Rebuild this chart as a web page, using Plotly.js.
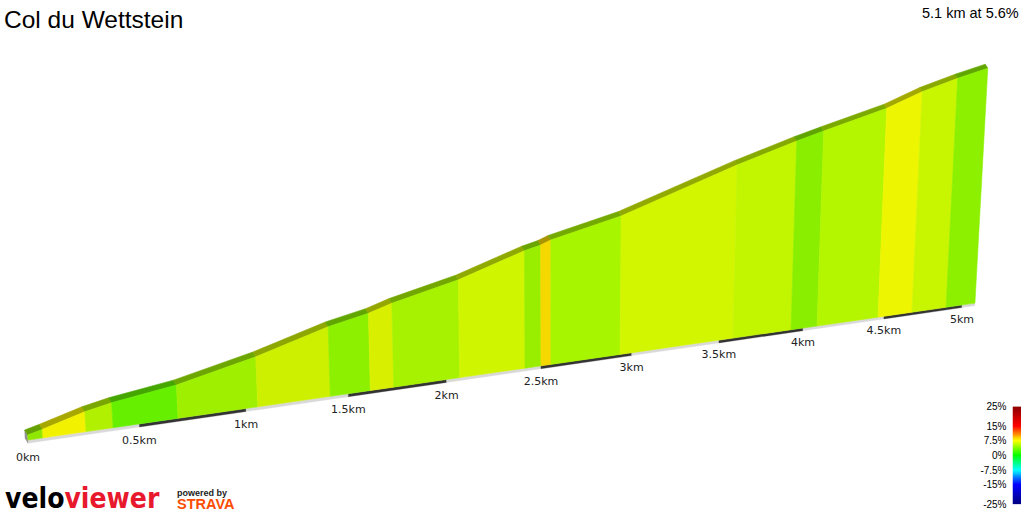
<!DOCTYPE html>
<html><head><meta charset="utf-8">
<script src="https://cdn.plot.ly/plotly-3.0.1.min.js"></script>
<style>html,body{margin:0;padding:0;background:#fff}#chart{width:1024px;height:512px}</style>
</head><body><div id="chart"></div>
<script>
// ---- data ----
const titleText = 'Col du Wettstein';
const summaryText = '5.1 km at 5.6%';
const distKm = [0, 0.066, 0.258, 0.380, 0.679, 1.056, 1.410, 1.610, 1.728, 2.068, 2.414, 2.500, 2.554, 2.935, 3.583, 3.928, 4.086, 4.463, 4.678, 4.897, 5.085];
const elevM  = [597, 600.5, 612.1, 617.4, 626.3, 644.3, 665.9, 674.6, 682.2, 698.6, 721.8, 726.0, 730.3, 748.2, 792.2, 813.1, 821.7, 841.5, 857.6, 870.0, 879.0];
const segColors = ['#90e800','#f2f200','#b0f000','#66f000','#9ef000','#ccf000','#8cf000','#d8f000','#a6f200','#d0f500',
                   '#99ee00','#f5d800','#a8f500','#d2f500','#c2f500','#8aee00','#b4f500','#eef500','#c8f500','#8cf000'];
const kmTicks  = [0, 0.5, 1, 1.5, 2, 2.5, 3, 3.5, 4, 4.5, 5];
const kmLabels = ['0km','0.5km','1km','1.5km','2km','2.5km','3km','3.5km','4km','4.5km','5km'];
const legendVals   = [25, 15, 7.5, 0, -7.5, -15, -25];
const legendLabels = ['25%','15%','7.5%','0%','-7.5%','-15%','-25%'];
const legendStops  = [[-25,'#000080'],[-15,'#0000ff'],[-7.5,'#00ffff'],[0,'#00ff00'],[7.5,'#ffff00'],[15,'#ff0000'],[25,'#8b0000']];

// ---- pseudo-3D projection (distance, elevation) -> plot units (1 unit = 1px) ----
const V = {x0:28, y0:440, A:227.6, B:32.9, k:0.0437, h0:5, c:1, vx:560, vd:7600, bx:-3, by:-5, slab:3.2, lab:18};
const eMin = Math.min(...elevM);
function proj(d, e, depth, drop) {
  const s = 1/(1+V.k*d);
  const xb = V.x0 + V.A*d*s, yb = V.y0 - V.B*d*s;
  const h = (e===null) ? 0 : s*(V.h0 + V.c*(e-eMin));
  const x = xb + (xb - V.vx)*h/V.vd + depth*V.bx*s;
  const y = yb - h + depth*V.by*s + (drop||0)*s;
  return [x, y];
}
function darken(hex, f) {
  const n = parseInt(hex.slice(1),16);
  const r = Math.round(((n>>16)&255)*f), g = Math.round(((n>>8)&255)*f), b = Math.round((n&255)*f);
  return 'rgb('+r+','+g+','+b+')';
}
function poly(pts, color, lw) {
  return {type:'scatter', mode:'lines', x:pts.map(p=>p[0]).concat([pts[0][0]]), y:pts.map(p=>p[1]).concat([pts[0][1]]),
          fill:'toself', fillcolor:color, line:{color:color, width:lw===undefined?0.6:lw}, hoverinfo:'skip', showlegend:false};
}

const traces = [];
// ground slab
const dEnd = distKm[distKm.length-1];
const gStops = kmTicks.filter(t=>t<dEnd).concat([dEnd]);
for (let i=0;i<gStops.length-1;i++) {
  const a=gStops[i], b=gStops[i+1];
  const col = (i%2===1) ? '#333333' : '#d9d9d9';
  traces.push(poly([proj(a,null,0,0), proj(b,null,0,0), proj(b,null,0,V.slab), proj(a,null,0,V.slab)], col, 0.3));
}
// start side face
traces.push(poly([proj(0,elevM[0],0), proj(0,elevM[0],1), proj(0,null,1,V.slab), proj(0,null,0,V.slab)], '#929292', 0.3));
// top strips
for (let i=0;i<segColors.length;i++) {
  const d0=distKm[i], d1=distKm[i+1], e0=elevM[i], e1=elevM[i+1];
  traces.push(poly([proj(d0,e0,0), proj(d1,e1,0), proj(d1,e1,1), proj(d0,e0,1)], darken(segColors[i],0.69)));
}
// front faces
for (let i=0;i<segColors.length;i++) {
  const d0=distKm[i], d1=distKm[i+1], e0=elevM[i], e1=elevM[i+1];
  traces.push(poly([proj(d0,null,0), proj(d1,null,0), proj(d1,e1,0), proj(d0,e0,0)], segColors[i]));
}
// km labels
const lp = kmTicks.map(t=>proj(t,null,0,V.lab));
traces.push({type:'scatter', mode:'text', x:lp.map(p=>p[0]), y:lp.map(p=>p[1]), text:kmLabels,
  textposition:'middle center', textfont:{family:'DejaVu Sans', size:11, color:'#222'}, hoverinfo:'skip', showlegend:false, cliponaxis:false});

// gradient legend bar
const lgY = []; for (let v=-25; v<=25.001; v+=0.25) lgY.push(v);
traces.push({type:'heatmap', x:[0], y:lgY, z:lgY.map(v=>[v]), xaxis:'x2', yaxis:'y2', showscale:false, hoverinfo:'skip',
  zmin:-25, zmax:25, colorscale:legendStops.map(s=>[(s[0]+25)/50, s[1]])});

const layout = {
  width:1024, height:512, margin:{l:0,r:0,t:0,b:0}, paper_bgcolor:'#fff', plot_bgcolor:'rgba(0,0,0,0)', showlegend:false,
  xaxis:{range:[0,1024], visible:false, fixedrange:true, domain:[0,1]},
  yaxis:{range:[512,0], visible:false, fixedrange:true, domain:[0,1]},
  xaxis2:{domain:[1012.5/1024, 1021/1024], anchor:'y2', visible:false, fixedrange:true},
  yaxis2:{domain:[(512-504.5)/512, (512-406.5)/512], anchor:'x2', range:[-25,25], tickvals:legendVals, ticktext:legendLabels,
          ticks:'', showgrid:false, zeroline:false, showline:false, ticklabelstandoff:5, fixedrange:true,
          tickfont:{family:'Liberation Sans, Arial', size:10, color:'#000'}},
  annotations:[
    {text:titleText, x:2, y:19, xref:'x', yref:'y', xanchor:'left', yanchor:'middle', showarrow:false,
     font:{family:'Liberation Sans, Arial', size:24.5, color:'#000'}},
    {text:summaryText, x:1021, y:13, xref:'x', yref:'y', xanchor:'right', yanchor:'middle', showarrow:false,
     font:{family:'Liberation Sans, Arial', size:14.5, color:'#000'}},
    {text:'velo<span style="color:#e8192c">viewer</span>', x:4, y:498, xref:'x', yref:'y', xanchor:'left', yanchor:'middle', showarrow:false,
     borderpad:0, font:{family:'DejaVu Sans Condensed, Liberation Sans Narrow, DejaVu Sans', size:28, weight:'bold', color:'#000'}},
    {text:'powered by', x:175, y:492.5, xref:'x', yref:'y', xanchor:'left', yanchor:'middle', showarrow:false,
     font:{family:'Liberation Sans, Arial', size:9, weight:'bold', color:'#222'}},
    {text:'STRAVA', x:175, y:503.5, xref:'x', yref:'y', xanchor:'left', yanchor:'middle', showarrow:false,
     font:{family:'Liberation Sans, Arial', size:14.5, weight:'bold', color:'#fc4c02'}}
  ]
};
Plotly.newPlot('chart', traces, layout, {staticPlot:true, displayModeBar:false});
</script></body></html>
